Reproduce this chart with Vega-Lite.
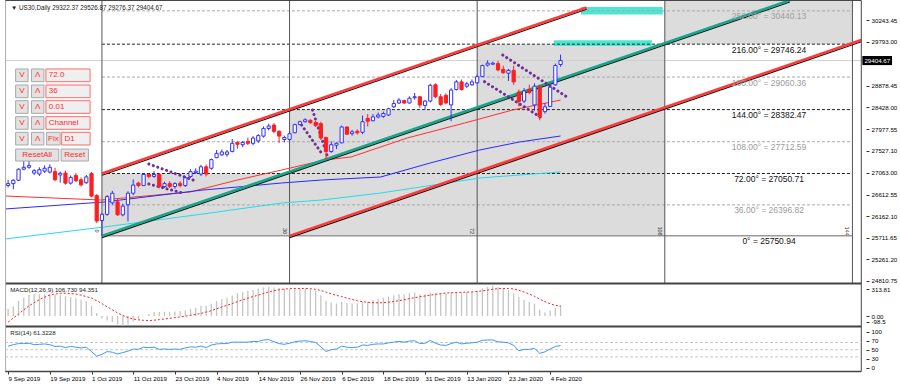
{
"$schema":"https://vega.github.io/schema/vega-lite/v6.json",
"background":"white",
"width":890,"height":377,
"autosize":{"type":"none"},
"padding":5,
"config":{"view":{"stroke":null},
"axis":{"labelFont":"Liberation Sans","labelFontSize":6.2,"labelColor":"#000","tickColor":"#333","tickSize":3,"domain":false,"grid":false,"labelPadding":2},
"text":{"font":"Liberation Sans"}},
"resolve":{"scale":{"y":"independent","color":"independent"},"axis":{"x":"independent","y":"independent"}},
"datasets":{
"bars":[
{"i":0,"o":26800,"h":26920,"l":26760,"c":26840,"m":70,"s":-60,"r":60},
{"i":1,"o":26840,"h":26930,"l":26720,"c":26910,"m":96,"s":-20,"r":64},
{"i":2,"o":26910,"h":27160,"l":26890,"c":27140,"m":147,"s":20,"r":67},
{"i":3,"o":27140,"h":27310,"l":27120,"c":27180,"m":180,"s":60,"r":67},
{"i":4,"o":27180,"h":27310,"l":27150,"c":27220,"m":205,"s":100,"r":68},
{"i":5,"o":27060,"h":27140,"l":27020,"c":27110,"m":213,"s":130,"r":64},
{"i":6,"o":27040,"h":27180,"l":27000,"c":27130,"m":213,"s":160,"r":65},
{"i":7,"o":27100,"h":27220,"l":27060,"c":27160,"m":213,"s":185,"r":66},
{"i":8,"o":27080,"h":27240,"l":27050,"c":27180,"m":215,"s":205,"r":64},
{"i":9,"o":27090,"h":27170,"l":26890,"c":26920,"m":210,"s":215,"r":59},
{"i":10,"o":27020,"h":27090,"l":26860,"c":27055,"m":205,"s":222,"r":60},
{"i":11,"o":27060,"h":27110,"l":26820,"c":26850,"m":195,"s":223,"r":56},
{"i":12,"o":26850,"h":27010,"l":26820,"c":26970,"m":185,"s":220,"r":59},
{"i":13,"o":27010,"h":27060,"l":26870,"c":26900,"m":175,"s":215,"r":57},
{"i":14,"o":26920,"h":26970,"l":26780,"c":26815,"m":160,"s":205,"r":55},
{"i":15,"o":26860,"h":27020,"l":26830,"c":26980,"m":145,"s":190,"r":57},
{"i":16,"o":27050,"h":27080,"l":26560,"c":26580,"m":100,"s":175,"r":45},
{"i":17,"o":26590,"h":26620,"l":26020,"c":26060,"m":30,"s":150,"r":32},
{"i":18,"o":26070,"h":26230,"l":25751,"c":26200,"m":-25,"s":120,"r":37},
{"i":19,"o":26200,"h":26600,"l":26170,"c":26570,"m":-45,"s":90,"r":45},
{"i":20,"o":26440,"h":26690,"l":26400,"c":26640,"m":-60,"s":60,"r":43},
{"i":21,"o":26460,"h":26520,"l":26170,"c":26190,"m":-85,"s":30,"r":38},
{"i":22,"o":26190,"h":26420,"l":26160,"c":26370,"m":-98.5,"s":5,"r":42},
{"i":23,"o":26400,"h":26680,"l":26050,"c":26640,"m":-85,"s":-15,"r":46},
{"i":24,"o":26640,"h":26930,"l":26600,"c":26810,"m":-55,"s":-30,"r":52},
{"i":25,"o":26850,"h":26880,"l":26760,"c":26800,"m":-30,"s":-38,"r":51},
{"i":26,"o":26800,"h":27060,"l":26790,"c":27030,"m":0,"s":-43,"r":57},
{"i":27,"o":27030,"h":27050,"l":26950,"c":26990,"m":20,"s":-45,"r":56},
{"i":28,"o":26990,"h":27100,"l":26960,"c":27030,"m":40,"s":-42,"r":57},
{"i":29,"o":27030,"h":27060,"l":26740,"c":26780,"m":40,"s":-36,"r":51},
{"i":30,"o":26780,"h":26880,"l":26750,"c":26840,"m":42,"s":-30,"r":52},
{"i":31,"o":26840,"h":26890,"l":26750,"c":26780,"m":42,"s":-23,"r":51},
{"i":32,"o":26780,"h":26870,"l":26730,"c":26840,"m":45,"s":-16,"r":52},
{"i":33,"o":26840,"h":26890,"l":26760,"c":26800,"m":48,"s":-9,"r":51},
{"i":34,"o":26800,"h":26990,"l":26770,"c":26960,"m":55,"s":-2,"r":55},
{"i":35,"o":26990,"h":27140,"l":26960,"c":27090,"m":68,"s":6,"r":58},
{"i":36,"o":27070,"h":27160,"l":27040,"c":27100,"m":80,"s":15,"r":57},
{"i":37,"o":27040,"h":27230,"l":27000,"c":27190,"m":100,"s":25,"r":60},
{"i":38,"o":27190,"h":27240,"l":26990,"c":27040,"m":100,"s":38,"r":56},
{"i":39,"o":27160,"h":27360,"l":27130,"c":27340,"m":120,"s":52,"r":63},
{"i":40,"o":27380,"h":27540,"l":27370,"c":27470,"m":146,"s":70,"r":66},
{"i":41,"o":27440,"h":27550,"l":27420,"c":27500,"m":165,"s":88,"r":67},
{"i":42,"o":27450,"h":27540,"l":27400,"c":27500,"m":180,"s":105,"r":67},
{"i":43,"o":27510,"h":27770,"l":27490,"c":27680,"m":200,"s":122,"r":71},
{"i":44,"o":27700,"h":27720,"l":27570,"c":27660,"m":223,"s":140,"r":71},
{"i":45,"o":27650,"h":27730,"l":27600,"c":27700,"m":235,"s":158,"r":71},
{"i":46,"o":27720,"h":27800,"l":27640,"c":27680,"m":245,"s":175,"r":71},
{"i":47,"o":27680,"h":27830,"l":27640,"c":27790,"m":255,"s":190,"r":73},
{"i":48,"o":27730,"h":27870,"l":27690,"c":27840,"m":270,"s":205,"r":73},
{"i":49,"o":27830,"h":28030,"l":27800,"c":27990,"m":280,"s":220,"r":77},
{"i":50,"o":27990,"h":28090,"l":27950,"c":28040,"m":284,"s":235,"r":78},
{"i":51,"o":28060,"h":28100,"l":27890,"c":27930,"m":280,"s":248,"r":72},
{"i":52,"o":27930,"h":27950,"l":27690,"c":27830,"m":274,"s":258,"r":67},
{"i":53,"o":27760,"h":27840,"l":27700,"c":27800,"m":268,"s":264,"r":65},
{"i":54,"o":27760,"h":27920,"l":27730,"c":27880,"m":263,"s":268,"r":68},
{"i":55,"o":27900,"h":28090,"l":27890,"c":28070,"m":268,"s":270,"r":72},
{"i":56,"o":28070,"h":28150,"l":28060,"c":28130,"m":270,"s":270,"r":74},
{"i":57,"o":28130,"h":28200,"l":28110,"c":28170,"m":270,"s":270,"r":75},
{"i":58,"o":28160,"h":28180,"l":28090,"c":28110,"m":263,"s":268,"r":73},
{"i":59,"o":28110,"h":28150,"l":28020,"c":28050,"m":247,"s":262,"r":70},
{"i":60,"o":28090,"h":28130,"l":27750,"c":27790,"m":203,"s":250,"r":58},
{"i":61,"o":27800,"h":27820,"l":27330,"c":27510,"m":150,"s":235,"r":45},
{"i":62,"o":27510,"h":27720,"l":27480,"c":27650,"m":129,"s":218,"r":50},
{"i":63,"o":27640,"h":27700,"l":27560,"c":27680,"m":123,"s":202,"r":52},
{"i":64,"o":27690,"h":28050,"l":27680,"c":28020,"m":136,"s":190,"r":60},
{"i":65,"o":28020,"h":28030,"l":27860,"c":27870,"m":129,"s":175,"r":57},
{"i":66,"o":27880,"h":27960,"l":27840,"c":27920,"m":123,"s":162,"r":56},
{"i":67,"o":27930,"h":27970,"l":27860,"c":27900,"m":123,"s":150,"r":57},
{"i":68,"o":27910,"h":28260,"l":27870,"c":28130,"m":136,"s":140,"r":63},
{"i":69,"o":28200,"h":28290,"l":28030,"c":28140,"m":140,"s":134,"r":62},
{"i":70,"o":28150,"h":28290,"l":28140,"c":28230,"m":156,"s":130,"r":65},
{"i":71,"o":28230,"h":28320,"l":28200,"c":28270,"m":170,"s":129,"r":66},
{"i":72,"o":28240,"h":28340,"l":28210,"c":28300,"m":180,"s":130,"r":66},
{"i":73,"o":28270,"h":28420,"l":28250,"c":28400,"m":190,"s":135,"r":69},
{"i":74,"o":28440,"h":28580,"l":28420,"c":28510,"m":203,"s":142,"r":71},
{"i":75,"o":28520,"h":28620,"l":28500,"c":28580,"m":213,"s":150,"r":73},
{"i":76,"o":28570,"h":28590,"l":28500,"c":28520,"m":213,"s":160,"r":71},
{"i":77,"o":28520,"h":28660,"l":28510,"c":28620,"m":223,"s":170,"r":74},
{"i":78,"o":28630,"h":28730,"l":28590,"c":28650,"m":230,"s":180,"r":75},
{"i":79,"o":28650,"h":28660,"l":28420,"c":28480,"m":213,"s":188,"r":67},
{"i":80,"o":28470,"h":28580,"l":28380,"c":28560,"m":213,"s":196,"r":68},
{"i":81,"o":28560,"h":28920,"l":28530,"c":28890,"m":230,"s":204,"r":76},
{"i":82,"o":28900,"h":28930,"l":28620,"c":28650,"m":230,"s":212,"r":68},
{"i":83,"o":28650,"h":28710,"l":28460,"c":28490,"m":220,"s":219,"r":63},
{"i":84,"o":28680,"h":28720,"l":28490,"c":28520,"m":220,"s":225,"r":62},
{"i":85,"o":28480,"h":28830,"l":28140,"c":28790,"m":230,"s":228,"r":67},
{"i":86,"o":28800,"h":29000,"l":28780,"c":28960,"m":237,"s":230,"r":71},
{"i":87,"o":28960,"h":29010,"l":28780,"c":28800,"m":230,"s":232,"r":66},
{"i":88,"o":28870,"h":28960,"l":28830,"c":28920,"m":237,"s":234,"r":68},
{"i":89,"o":28900,"h":29010,"l":28880,"c":28960,"m":237,"s":236,"r":69},
{"i":90,"o":28940,"h":29110,"l":28920,"c":29070,"m":247,"s":240,"r":71},
{"i":91,"o":29070,"h":29320,"l":29060,"c":29300,"m":270,"s":246,"r":76},
{"i":92,"o":29310,"h":29410,"l":29280,"c":29350,"m":285,"s":254,"r":77},
{"i":93,"o":29330,"h":29380,"l":29310,"c":29350,"m":300,"s":262,"r":77},
{"i":94,"o":29340,"h":29400,"l":29180,"c":29210,"m":285,"s":268,"r":72},
{"i":95,"o":29220,"h":29300,"l":29130,"c":29150,"m":275,"s":270,"r":71},
{"i":96,"o":29140,"h":29230,"l":28980,"c":29200,"m":255,"s":270,"r":69},
{"i":97,"o":29200,"h":29300,"l":28900,"c":28960,"m":223,"s":265,"r":62},
{"i":98,"o":28750,"h":28800,"l":28450,"c":28550,"m":185,"s":252,"r":47},
{"i":99,"o":28560,"h":28830,"l":28520,"c":28770,"m":160,"s":235,"r":51},
{"i":100,"o":28800,"h":28900,"l":28700,"c":28740,"m":136,"s":215,"r":51},
{"i":101,"o":28480,"h":28930,"l":28360,"c":28870,"m":120,"s":192,"r":54},
{"i":102,"o":28860,"h":28900,"l":28160,"c":28230,"m":60,"s":165,"r":40},
{"i":103,"o":28340,"h":28520,"l":28300,"c":28440,"m":35,"s":140,"r":44},
{"i":104,"o":28450,"h":28900,"l":28440,"c":28850,"m":50,"s":120,"r":52},
{"i":105,"o":28900,"h":29340,"l":28880,"c":29300,"m":80,"s":105,"r":59},
{"i":106,"o":29322.37,"h":29526.87,"l":29276.37,"c":29404.67,"m":106.73,"s":94.35,"r":61.32}
],
"ma":[
{"ma":"a","i":-0.6,"p":26582},{"ma":"a","i":17.8,"p":26498},{"ma":"a","i":34.9,"p":26665},{"ma":"a","i":44,"p":26915},{"ma":"a","i":52.5,"p":27124},{"ma":"a","i":60.7,"p":27332},{"ma":"a","i":65.8,"p":27395},{"ma":"a","i":76.6,"p":27791},{"ma":"a","i":87.6,"p":28103},{"ma":"a","i":96.8,"p":28374},{"ma":"a","i":106,"p":28582},
{"ma":"b","i":-0.6,"p":26311},{"ma":"b","i":18.4,"p":26457},{"ma":"b","i":37.4,"p":26707},{"ma":"b","i":44,"p":26769},{"ma":"b","i":52.5,"p":26853},{"ma":"b","i":60.1,"p":26915},{"ma":"b","i":71.5,"p":26978},{"ma":"b","i":81,"p":27270},{"ma":"b","i":90.5,"p":27541},{"ma":"b","i":98.1,"p":27707},{"ma":"b","i":106,"p":27832},
{"ma":"c","i":-0.6,"p":25686},{"ma":"c","i":18.4,"p":25936},{"ma":"c","i":37.4,"p":26207},{"ma":"c","i":52.5,"p":26436},{"ma":"c","i":60.1,"p":26498},{"ma":"c","i":71.5,"p":26644},{"ma":"c","i":90.5,"p":26957},{"ma":"c","i":106,"p":27082}
],
"levels":[
{"deg":0,"p":25750.94,"t":"0° = 25750.94"},
{"deg":36,"p":26396.82,"t":"36.00° = 26396.82"},
{"deg":72,"p":27050.71,"t":"72.00° = 27050.71"},
{"deg":108,"p":27712.59,"t":"108.00° = 27712.59"},
{"deg":144,"p":28382.47,"t":"144.00° = 28382.47"},
{"deg":180,"p":29060.36,"t":"180.00° = 29060.36"},
{"deg":216,"p":29746.24,"t":"216.00° = 29746.24"},
{"deg":252,"p":30440.13,"t":"252.00° = 30440.13"}
],
"boxes":[
{"x1":18,"x2":54,"p1":25750.94,"p2":27050.71},
{"x1":54,"x2":90,"p1":25750.94,"p2":28382.47},
{"x1":90,"x2":126,"p1":25750.94,"p2":29746.24},
{"x1":126,"x2":162,"p1":29746.24,"p2":30666}
],
"cyan":[
{"x1":104.7,"x2":123.5,"p1":29708,"p2":29826},
{"x1":109.9,"x2":125.6,"p1":30364,"p2":30520}
],
"chan":[
{"ln":"g","i":18,"p":25750.94},{"ln":"g","i":150,"p":30661},
{"ln":"r1","i":18,"p":27050.71},{"ln":"r1","i":111,"p":30510},
{"ln":"r2","i":54,"p":25750.94},{"ln":"r2","i":163.7,"p":29832}
],
"flags":[
{"f":"a1","i":27,"p":27249},{"f":"a1","i":35.5,"p":26915},
{"f":"a2","i":27,"p":26832},{"f":"a2","i":33.5,"p":26644},
{"f":"b1","i":58.4,"p":28374},{"f":"b1","i":61.3,"p":27395},
{"f":"b2","i":56.3,"p":28062},{"f":"b2","i":60.4,"p":27436},
{"f":"c1","i":94.9,"p":29520},{"f":"c1","i":107.6,"p":28618},
{"f":"c2","i":91.4,"p":28964},{"f":"c2","i":102.5,"p":28201}
],
"vl":[{"i":18,"n":"0"},{"i":54,"n":"36"},{"i":90,"n":"72"},{"i":126,"n":"108"},{"i":162,"n":"144"}],
"btn":[
{"x1":1.44,"x2":3.83,"p1":28964,"p2":29229,"tx":2.63,"ty":29096,"t":"V","k":"btn"},
{"x1":4.48,"x2":6.87,"p1":28964,"p2":29229,"tx":5.67,"ty":29096,"t":"Λ","k":"btn"},
{"x1":7.25,"x2":15.73,"p1":28964,"p2":29229,"tx":7.8,"ty":29096,"t":"72.0","k":"box"},
{"x1":1.44,"x2":3.83,"p1":28630,"p2":28895,"tx":2.63,"ty":28762,"t":"V","k":"btn"},
{"x1":4.48,"x2":6.87,"p1":28630,"p2":28895,"tx":5.67,"ty":28762,"t":"Λ","k":"btn"},
{"x1":7.25,"x2":15.73,"p1":28630,"p2":28895,"tx":7.8,"ty":28762,"t":"36","k":"box"},
{"x1":1.44,"x2":3.83,"p1":28305,"p2":28568,"tx":2.63,"ty":28436,"t":"V","k":"btn"},
{"x1":4.48,"x2":6.87,"p1":28305,"p2":28568,"tx":5.67,"ty":28436,"t":"Λ","k":"btn"},
{"x1":7.25,"x2":15.73,"p1":28305,"p2":28568,"tx":7.8,"ty":28436,"t":"0.01","k":"box"},
{"x1":1.44,"x2":3.83,"p1":27972,"p2":28235,"tx":2.63,"ty":28103,"t":"V","k":"btn"},
{"x1":4.48,"x2":6.87,"p1":27972,"p2":28235,"tx":5.67,"ty":28103,"t":"Λ","k":"btn"},
{"x1":7.25,"x2":15.73,"p1":27972,"p2":28235,"tx":7.8,"ty":28103,"t":"Channel","k":"box"},
{"x1":1.44,"x2":3.83,"p1":27645,"p2":27909,"tx":2.63,"ty":27777,"t":"V","k":"btn"},
{"x1":4.48,"x2":6.87,"p1":27645,"p2":27909,"tx":5.67,"ty":27777,"t":"Λ","k":"btn"},
{"x1":7.38,"x2":9.98,"p1":27645,"p2":27909,"tx":8.68,"ty":27777,"t":"Fix","k":"btn"},
{"x1":10.28,"x2":15.73,"p1":27645,"p2":27909,"tx":10.8,"ty":27777,"t":"D1","k":"box"},
{"x1":1.44,"x2":9.72,"p1":27311,"p2":27561,"tx":5.58,"ty":27436,"t":"ResetAll","k":"btn"},
{"x1":10.17,"x2":15.41,"p1":27311,"p2":27561,"tx":12.79,"ty":27436,"t":"Reset","k":"btn"}
],
"hr":[{"p":30656.1,"w":1},{"p":24758.4,"w":2},{"p":23862.3,"w":2},{"p":22924.4,"w":1.5}]
},
"layer":[
{"data":{"name":"boxes"},"mark":{"type":"rect","color":"#dcdcdc"},
"encoding":{"x":{"field":"x1","type":"quantitative","scale":{"domain":[0.36,169.21],"nice":false,"zero":false},"axis":null},"x2":{"field":"x2"},
"y":{"field":"p1","type":"quantitative","scale":{"domain":[22705.6,30562.3],"nice":false,"zero":false},
"axis":{"orient":"right","title":null,"offset":-29,"labelOverlap":false,"labelBound":false,
"values":[30243.45,29793.00,28878.45,28428.00,27977.55,27527.10,27063.00,26612.55,26162.10,25711.65,25261.20,24810.75,24637.4,24081,23962.1,23753.9,23560.1,23378.8,23185,23003.6],
"labelExpr":"datum.value>24700?format(datum.value,'.2f'):datum.value>24600?'313.81':datum.value>24000?'0.00':datum.value>23900?'-98.5':datum.value>23700?'100':datum.value>23500?'70':datum.value>23300?'50':datum.value>23100?'30':'0'"}},"y2":{"field":"p2"}}},
{"data":{"name":"cyan"},"mark":{"type":"rect","color":"#4de6d2"},
"encoding":{"x":{"field":"x1","type":"quantitative","scale":{"domain":[0.36,169.21],"nice":false,"zero":false},"axis":null},"x2":{"field":"x2"},
"y":{"field":"p1","type":"quantitative","scale":{"domain":[22705.6,30562.3],"nice":false,"zero":false},"axis":null},"y2":{"field":"p2"}}},
{"data":{"values":[{"p":29404.67}]},"mark":{"type":"rule","color":"#d0d0d0","strokeWidth":1},
"encoding":{"x":{"datum":-0.59,"type":"quantitative","scale":{"domain":[0.36,169.21],"nice":false,"zero":false},"axis":null},"x2":{"datum":163.7},
"y":{"field":"p","type":"quantitative","scale":{"domain":[22705.6,30562.3],"nice":false,"zero":false},"axis":null}}},
{"data":{"name":"levels"},"transform":[{"filter":"datum.deg>0 && datum.deg%72==0"}],"mark":{"type":"rule","color":"#222","strokeDash":[3,2],"strokeWidth":1},
"encoding":{"x":{"datum":18,"type":"quantitative","scale":{"domain":[0.36,169.21],"nice":false,"zero":false},"axis":null},"x2":{"datum":162},
"y":{"field":"p","type":"quantitative","scale":{"domain":[22705.6,30562.3],"nice":false,"zero":false},"axis":null}}},
{"data":{"name":"levels"},"transform":[{"filter":"datum.deg%72==36"}],"mark":{"type":"rule","color":"#a8a8a8","strokeDash":[3,2],"strokeWidth":1},
"encoding":{"x":{"datum":18,"type":"quantitative","scale":{"domain":[0.36,169.21],"nice":false,"zero":false},"axis":null},"x2":{"datum":162},
"y":{"field":"p","type":"quantitative","scale":{"domain":[22705.6,30562.3],"nice":false,"zero":false},"axis":null}}},
{"data":{"name":"levels"},"transform":[{"filter":"datum.deg==0"}],"mark":{"type":"rule","color":"#9a9a9a","strokeWidth":1.5},
"encoding":{"x":{"datum":18,"type":"quantitative","scale":{"domain":[0.36,169.21],"nice":false,"zero":false},"axis":null},"x2":{"datum":162},
"y":{"field":"p","type":"quantitative","scale":{"domain":[22705.6,30562.3],"nice":false,"zero":false},"axis":null}}},
{"data":{"name":"vl"},"mark":{"type":"rule","color":"#555","strokeWidth":1},
"encoding":{"x":{"field":"i","type":"quantitative","scale":{"domain":[0.36,169.21],"nice":false,"zero":false},"axis":null},
"y":{"datum":24768.8,"type":"quantitative","scale":{"domain":[22705.6,30562.3],"nice":false,"zero":false},"axis":null},"y2":{"datum":30666.5}}},
{"data":{"name":"ma"},"mark":{"type":"line","strokeWidth":1},
"encoding":{"x":{"field":"i","type":"quantitative","scale":{"domain":[0.36,169.21],"nice":false,"zero":false},"axis":null},
"y":{"field":"p","type":"quantitative","scale":{"domain":[22705.6,30562.3],"nice":false,"zero":false},"axis":null},
"color":{"field":"ma","type":"nominal","scale":{"domain":["a","b","c"],"range":["#ff3030","#2a2aff","#22dcec"]},"legend":null}}},
{"data":{"name":"chan"},"mark":{"type":"line","strokeWidth":1.2,"color":"#111","yOffset":1.7},
"encoding":{"x":{"field":"i","type":"quantitative","scale":{"domain":[0.36,169.21],"nice":false,"zero":false},"axis":null},
"y":{"field":"p","type":"quantitative","scale":{"domain":[22705.6,30562.3],"nice":false,"zero":false},"axis":null},
"detail":{"field":"ln"}}},
{"data":{"name":"chan"},"mark":{"type":"line","strokeWidth":2.6},
"encoding":{"x":{"field":"i","type":"quantitative","scale":{"domain":[0.36,169.21],"nice":false,"zero":false},"axis":null},
"y":{"field":"p","type":"quantitative","scale":{"domain":[22705.6,30562.3],"nice":false,"zero":false},"axis":null},
"color":{"field":"ln","type":"nominal","scale":{"domain":["g","r1","r2"],"range":["#17a68a","#ff3a3a","#ff3a3a"]},"legend":null}}},
{"data":{"name":"flags"},"mark":{"type":"line","strokeWidth":3,"color":"#6e2f96","strokeDash":[0.1,4.6],"strokeCap":"round"},
"encoding":{"x":{"field":"i","type":"quantitative","scale":{"domain":[0.36,169.21],"nice":false,"zero":false},"axis":null},
"y":{"field":"p","type":"quantitative","scale":{"domain":[22705.6,30562.3],"nice":false,"zero":false},"axis":null},
"detail":{"field":"f"}}},
{"data":{"name":"bars"},"mark":{"type":"rule","strokeWidth":1},
"encoding":{"x":{"field":"i","type":"quantitative","scale":{"domain":[0.36,169.21],"nice":false,"zero":false},"axis":null},
"y":{"field":"l","type":"quantitative","scale":{"domain":[22705.6,30562.3],"nice":false,"zero":false},"axis":null},"y2":{"field":"h"},
"color":{"condition":{"test":"datum.c>=datum.o","value":"#3030ff"},"value":"#ff1e1e"}}},
{"data":{"name":"bars"},"mark":{"type":"bar","size":3.2,"strokeWidth":1},
"encoding":{"x":{"field":"i","type":"quantitative","scale":{"domain":[0.36,169.21],"nice":false,"zero":false},"axis":null},
"y":{"field":"o","type":"quantitative","scale":{"domain":[22705.6,30562.3],"nice":false,"zero":false},"axis":null},"y2":{"field":"c"},
"fill":{"condition":{"test":"datum.c>=datum.o","value":"#ffffff"},"value":"#ff1e1e"},
"stroke":{"condition":{"test":"datum.c>=datum.o","value":"#3030ff"},"value":"#ff1e1e"}}},
{"data":{"name":"levels"},"mark":{"type":"text","fontSize":8.5,"align":"center","baseline":"middle","dy":5.5},
"encoding":{"x":{"datum":146,"type":"quantitative","scale":{"domain":[0.36,169.21],"nice":false,"zero":false},"axis":null},
"y":{"field":"p","type":"quantitative","scale":{"domain":[22705.6,30562.3],"nice":false,"zero":false},"axis":null},
"text":{"field":"t"},
"color":{"condition":{"test":"datum.deg%72==0","value":"#111"},"value":"#9c9c9c"}}},
{"data":{"name":"vl"},"mark":{"type":"text","fontSize":5.5,"angle":90,"align":"center","baseline":"middle","color":"#333"},
"encoding":{"x":{"field":"i","type":"quantitative","scale":{"domain":[0.36,169.21],"nice":false,"zero":false},"axis":null},
"y":{"datum":25853,"type":"quantitative","scale":{"domain":[22705.6,30562.3],"nice":false,"zero":false},"axis":null},
"xOffset":{"value":-5},
"text":{"field":"n"}}},
{"data":{"values":[{"t":"▼ US30,Daily 29322.37 29526.87 29276.37 29404.67"}]},"mark":{"type":"text","fontSize":6.3,"align":"left","baseline":"middle","color":"#222"},
"encoding":{"x":{"datum":0.55,"type":"quantitative","scale":{"domain":[0.36,169.21],"nice":false,"zero":false},"axis":null},
"y":{"datum":30500,"type":"quantitative","scale":{"domain":[22705.6,30562.3],"nice":false,"zero":false},"axis":null},
"text":{"field":"t"}}},
{"data":{"values":[{"p":29404.67}]},"mark":{"type":"rect","color":"#000"},
"encoding":{"x":{"datum":163.9,"type":"quantitative","scale":{"domain":[0.36,169.21],"nice":false,"zero":false},"axis":null},"x2":{"datum":169.6},
"y":{"datum":29310,"type":"quantitative","scale":{"domain":[22705.6,30562.3],"nice":false,"zero":false},"axis":null},"y2":{"datum":29500}}},
{"data":{"values":[{"p":29404.67,"t":"29404.67"}]},"mark":{"type":"text","fontSize":6.2,"align":"left","baseline":"middle","color":"#fff"},
"encoding":{"x":{"datum":164.3,"type":"quantitative","scale":{"domain":[0.36,169.21],"nice":false,"zero":false},"axis":null},
"y":{"field":"p","type":"quantitative","scale":{"domain":[22705.6,30562.3],"nice":false,"zero":false},"axis":null},
"text":{"field":"t"}}},
{"data":{"name":"btn"},"mark":{"type":"rect","strokeWidth":1},
"encoding":{"x":{"field":"x1","type":"quantitative","scale":{"domain":[0.36,169.21],"nice":false,"zero":false},"axis":null},"x2":{"field":"x2"},
"y":{"field":"p1","type":"quantitative","scale":{"domain":[22705.6,30562.3],"nice":false,"zero":false},"axis":null},"y2":{"field":"p2"},
"fill":{"condition":{"test":"datum.k=='box'","value":"#efefef"},"value":"#e2e2e2"},
"stroke":{"condition":{"test":"datum.k=='box'","value":"#ff6a6a"},"value":"#a8a8a8"}}},
{"data":{"name":"btn"},"transform":[{"filter":"datum.k=='btn'"}],"mark":{"type":"text","fontSize":8,"align":"center","baseline":"middle","color":"#ff2a2a"},
"encoding":{"x":{"field":"tx","type":"quantitative","scale":{"domain":[0.36,169.21],"nice":false,"zero":false},"axis":null},
"y":{"field":"ty","type":"quantitative","scale":{"domain":[22705.6,30562.3],"nice":false,"zero":false},"axis":null},
"text":{"field":"t"}}},
{"data":{"name":"btn"},"transform":[{"filter":"datum.k=='box'"}],"mark":{"type":"text","fontSize":8,"align":"left","baseline":"middle","color":"#ff2a2a"},
"encoding":{"x":{"field":"tx","type":"quantitative","scale":{"domain":[0.36,169.21],"nice":false,"zero":false},"axis":null},
"y":{"field":"ty","type":"quantitative","scale":{"domain":[22705.6,30562.3],"nice":false,"zero":false},"axis":null},
"text":{"field":"t"}}},
{"data":{"name":"hr"},"mark":{"type":"rule","color":"#444"},
"encoding":{"x":{"datum":-0.59,"type":"quantitative","scale":{"domain":[0.36,169.21],"nice":false,"zero":false},"axis":null},"x2":{"datum":163.7},
"y":{"field":"p","type":"quantitative","scale":{"domain":[22705.6,30562.3],"nice":false,"zero":false},"axis":null},
"strokeWidth":{"field":"w","type":"quantitative","scale":null}}},
{"data":{"values":[{"i":163.7,"c":"#444"},{"i":-0.49,"c":"#aaa"}]},"mark":{"type":"rule","strokeWidth":1},
"encoding":{"x":{"field":"i","type":"quantitative","scale":{"domain":[0.36,169.21],"nice":false,"zero":false},"axis":null},
"y":{"datum":22924.4,"type":"quantitative","scale":{"domain":[22705.6,30562.3],"nice":false,"zero":false},"axis":null},"y2":{"datum":30656.1},
"color":{"field":"c","type":"nominal","scale":null}}},
{"data":{"name":"bars"},"mark":{"type":"rule","color":"#c4c4c4","strokeWidth":1.3},
"encoding":{"x":{"field":"i","type":"quantitative","scale":{"domain":[0.36,169.21],"nice":false,"zero":false},"axis":null},
"y":{"field":"m","type":"quantitative","scale":{"domain":[-648.3,3052.8],"nice":false,"zero":false},"axis":null},
"y2":{"datum":0}}},
{"data":{"name":"bars"},"mark":{"type":"line","color":"#ff2020","strokeWidth":1,"strokeDash":[2,2]},
"encoding":{"x":{"field":"i","type":"quantitative","scale":{"domain":[0.36,169.21],"nice":false,"zero":false},"axis":null},
"y":{"field":"s","type":"quantitative","scale":{"domain":[-648.3,3052.8],"nice":false,"zero":false},"axis":null}}},
{"data":{"values":[{"t":"MACD(12,26,9) 106.730 94.351"}]},"mark":{"type":"text","fontSize":6.2,"align":"left","baseline":"middle","color":"#222"},
"encoding":{"x":{"datum":0.4,"type":"quantitative","scale":{"domain":[0.36,169.21],"nice":false,"zero":false},"axis":null},
"y":{"datum":253,"type":"quantitative","scale":{"domain":[-648.3,3052.8],"nice":false,"zero":false},"axis":null},
"text":{"field":"t"}}},
{"data":{"values":[{"v":70},{"v":50},{"v":30}]},"mark":{"type":"rule","color":"#c8c8c8","strokeDash":[3,2],"strokeWidth":1},
"encoding":{"x":{"datum":-0.59,"type":"quantitative","scale":{"domain":[0.36,169.21],"nice":false,"zero":false},"axis":null},"x2":{"datum":163.7},
"y":{"field":"v","type":"quantitative","scale":{"domain":[-39.7,1007.6],"nice":false,"zero":false},"axis":null}}},
{"data":{"name":"bars"},"mark":{"type":"line","color":"#3d9bf5","strokeWidth":1},
"encoding":{"x":{"field":"i","type":"quantitative","scale":{"domain":[0.36,169.21],"nice":false,"zero":false},
"axis":{"orient":"bottom","title":null,"offset":-11,"values":[0,8,16,24,32,40,48,56,64,72,80,88,96,104],"labelAlign":"left","labelOverlap":false,"labelBound":false,"labelPadding":1,
"labelExpr":"['9 Sep 2019','19 Sep 2019','1 Oct 2019','11 Oct 2019','23 Oct 2019','4 Nov 2019','14 Nov 2019','26 Nov 2019','6 Dec 2019','18 Dec 2019','31 Dec 2019','13 Jan 2020','23 Jan 2020','4 Feb 2020'][round(datum.value/8)]"}},
"y":{"field":"r","type":"quantitative","scale":{"domain":[-39.7,1007.6],"nice":false,"zero":false},"axis":null}}},
{"data":{"values":[{"t":"RSI(14) 61.3228"}]},"mark":{"type":"text","fontSize":6.2,"align":"left","baseline":"middle","color":"#222"},
"encoding":{"x":{"datum":0.4,"type":"quantitative","scale":{"domain":[0.36,169.21],"nice":false,"zero":false},"axis":null},
"y":{"datum":96.4,"type":"quantitative","scale":{"domain":[-39.7,1007.6],"nice":false,"zero":false},"axis":null},
"text":{"field":"t"}}}
]
}
